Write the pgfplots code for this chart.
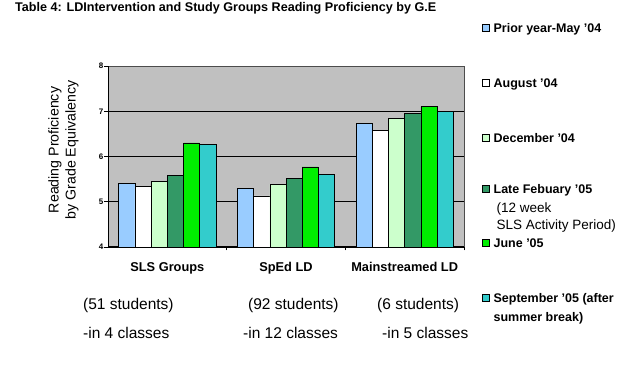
\documentclass[border=0pt]{standalone}
\usepackage{pgfplots}
\pgfplotsset{compat=1.18}
\usepackage{fontspec}
\setmainfont{Liberation Sans}
\definecolor{cPrior}{HTML}{99CCFF}
\definecolor{cAug}{HTML}{FFFFFF}
\definecolor{cDec}{HTML}{CCFFCC}
\definecolor{cFeb}{HTML}{339966}
\definecolor{cJun}{HTML}{00EE00}
\definecolor{cSep}{HTML}{33CCCC}
\definecolor{bggray}{HTML}{C0C0C0}
\newcommand{\lgent}[2]{\parbox[t][#1][t]{150bp}{\strut #2}}
\newcommand{\lgreg}{\fontsize{13.5bp}{17bp}\selectfont\mdseries}
\begin{document}
\begin{tikzpicture}
\path[use as bounding box] (0,0) rectangle (644bp,366bp);
\begin{axis}[
  at={(108bp,119bp)}, anchor=south west,
  width=356bp, height=181bp, scale only axis,
  xmin=0, xmax=3, ymin=4, ymax=8,
  axis lines*=left,
  axis line style={-, black, line width=0.8bp},
  axis background/.style={fill=bggray, draw=gray!60!black, line width=0.8bp},
  xtick={1,2,3}, xticklabels={,,},
  extra x ticks={0.5,1.5,2.5},
  extra x tick labels={SLS Groups, SpEd LD, Mainstreamed LD},
  extra x tick style={major tick length=0pt,
     xticklabel style={anchor=base, yshift=-25bp, inner sep=0pt,
        font=\fontsize{12.8bp}{14bp}\selectfont\bfseries}},
  ytick={4,5,6,7}, extra y ticks={8},
  extra y tick style={ymajorgrids=false},
  ymajorgrids=true,
  grid style={black, line width=1bp},
  tick align=outside, major tick length=3.5bp,
  tick style={black, line width=0.8bp},
  /pgf/number format/assume math mode=true,
  yticklabel style={font=\fontsize{8bp}{9bp}\selectfont\bfseries, inner sep=1bp},
  ylabel={Reading Proficiency\\by Grade Equivalency},
  ylabel style={at={(axis description cs:-0.125,0.536)}, anchor=center,
     align=center, font=\fontsize{14.2bp}{17bp}\selectfont},
  title={Table 4: LDIntervention and Study Groups Reading Proficiency by G.E},
  title style={at={(axis description cs:-0.2612,1.2669)}, anchor=base west,
     inner sep=0pt, font=\fontsize{12.6bp}{14bp}\selectfont\bfseries},
  ybar=0pt, bar width=16.2bp,
  legend image code/.code={\draw[#1, line width=0.6bp] (0bp,1bp) rectangle (7bp,8bp);},
  legend cell align=left,
  legend style={at={(axis description cs:1.0506,1.251)}, anchor=north west,
     draw=none, fill=none, inner sep=0pt, outer sep=0pt,
     row sep=0pt, column sep=4bp,
     font=\fontsize{12.5bp}{17bp}\selectfont\bfseries,
     nodes={inner sep=0pt, outer sep=0pt, text depth=, text height=, anchor=base west}},
]
\addplot[fill=cPrior, draw=black, line width=0.6bp] coordinates {(0.5,5.41) (1.5,5.30) (2.5,6.73)};
\addlegendentry{\lgent{55bp}{Prior year-May '04}}
\addplot[fill=cAug, draw=black, line width=0.6bp] coordinates {(0.5,5.34) (1.5,5.13) (2.5,6.58)};
\addlegendentry{\lgent{55bp}{August '04}}
\addplot[fill=cDec, draw=black, line width=0.6bp] coordinates {(0.5,5.45) (1.5,5.39) (2.5,6.84)};
\addlegendentry{\lgent{51.3bp}{December '04}}
\addplot[fill=cFeb, draw=black, line width=0.6bp] coordinates {(0.5,5.59) (1.5,5.51) (2.5,6.95)};
\addlegendentry{\lgent{54bp}{Late Febuary '05\\[2bp]{\lgreg\hspace*{3bp}(12 week\\\hspace*{3bp}SLS Activity Period)}}}
\addplot[fill=cJun, draw=black, line width=0.6bp] coordinates {(0.5,6.30) (1.5,5.77) (2.5,7.10)};
\addlegendentry{\lgent{55bp}{June '05}}
\addplot[fill=cSep, draw=black, line width=0.6bp] coordinates {(0.5,6.27) (1.5,5.61) (2.5,6.99)};
\addlegendentry{\lgent{40bp}{September '05 (after\\[2bp]summer break)}}
\end{axis}
\begin{scope}[every node/.style={anchor=west, inner sep=0pt, font=\fontsize{15.5bp}{18bp}\selectfont}]
\node at (83bp,61bp) {(51 students)};
\node at (248bp,61bp) {(92 students)};
\node at (377bp,61bp) {(6 students)};
\node at (83bp,33bp) {-in 4 classes};
\node at (243bp,33bp) {-in 12 classes};
\node at (382bp,33bp) {-in 5 classes};
\end{scope}
\end{tikzpicture}
\end{document}
